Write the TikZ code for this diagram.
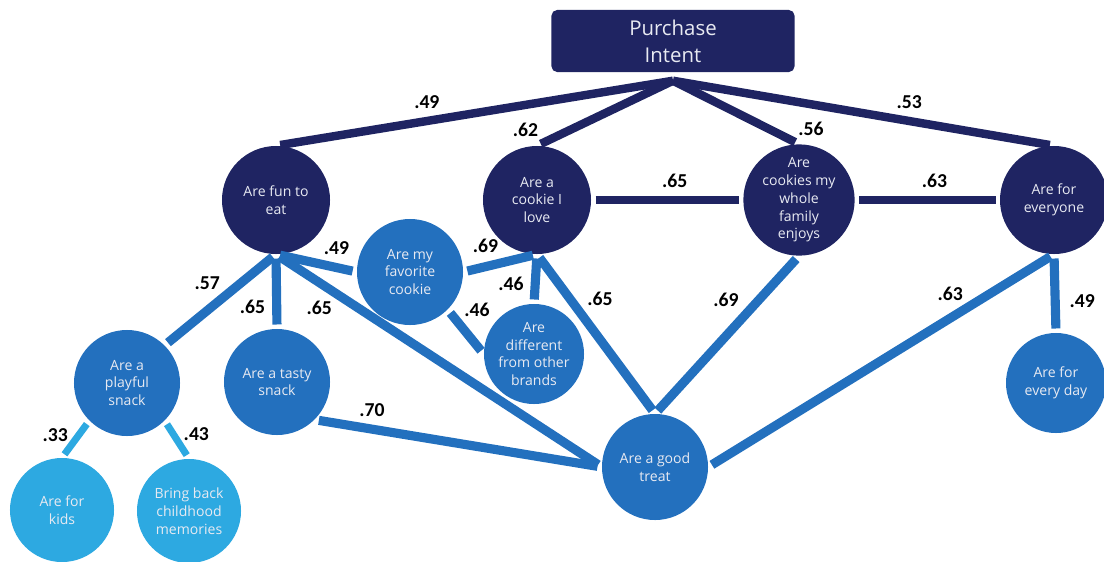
\documentclass[tikz,border=0pt]{standalone}
\usepackage{fontspec}
\setmainfont{Open Sans}
\newfontfamily\lblfont{Carlito}
\usetikzlibrary{positioning}
\definecolor{navy}{RGB}{31,36,98}
\definecolor{midblue}{RGB}{35,112,190}
\definecolor{lightblue}{RGB}{45,169,225}
\definecolor{nodetext}{RGB}{232,234,242}

\begin{document}
\begin{tikzpicture}
[
x=0.025cm, y=-0.025cm,
inner sep=0mm,
box1/.style={rectangle, rounded corners=4pt, fill=navy, text=nodetext, align=center, minimum width=6.075cm, minimum height=1.55cm, font=\fontsize{14.5}{19}\selectfont},
circ1/.style={circle, fill=navy, text=nodetext, align=center, minimum size=2.7cm, font=\fontsize{10}{12.6}\selectfont},
circ2/.style={circ1, fill=midblue, minimum size=2.65cm},
circ3/.style={circ1, fill=lightblue, minimum size=2.6cm},
lbl/.style={text=black, font=\lblfont\bfseries\fontsize{14}{14}\selectfont, inner sep=1pt},
line1/.style={navy, line width=6pt, shorten >=3pt},
line2/.style={midblue, line width=6.5pt, shorten <=3pt, shorten >=3pt},
line3/.style={lightblue, line width=5pt, shorten <=3pt, shorten >=3pt},
]
\useasboundingbox (0,0) rectangle (1104,561);

\node [box1] (intent) at (673,41) {Purchase\\Intent};

\node [circ1] (fun) at (276,200) {Are fun to\\eat};
\node [circ1] (love) at (537,200) {Are a\\cookie I\\love};
\node [circ1] (family) at (799,200) {Are\\cookies my\\whole\\family\\enjoys};
\node [circ1] (everyone) at (1054,200) {Are for\\everyone};

\node [circ2] (favorite) at (410,272) {Are my\\favorite\\cookie};
\node [circ2, minimum size=2.5cm] (different) at (534,354) {Are\\different\\from other\\brands};
\node [circ2] (playful) at (127,383) {Are a\\playful\\snack};
\node [circ2] (tasty) at (277,382) {Are a tasty\\snack};
\node [circ2] (treat) at (655,467) {Are a good\\treat};
\node [circ2, minimum size=2.5cm] (everyday) at (1056,383) {Are for\\every day};

\node [circ3] (kids) at (62,510) {Are for\\kids};
\node [circ3] (memories) at (189,511) {Bring back\\childhood\\memories};

% purchase intent
\draw [line1] ([yshift=-6pt]intent.south) -- node[lbl, pos=0.62, above=5pt]{.49} (fun.north);
\draw [line1] ([yshift=-6pt]intent.south) -- node[lbl, pos=0.95, above left]{.62} (love.north);
\draw [line1] ([yshift=-6pt]intent.south) -- node[lbl, pos=0.95, above right]{.56} (family.north);
\draw [line1] ([yshift=-6pt]intent.south) -- node[lbl, pos=0.62, above=5pt]{.53} (everyone.north);

\draw [line1, shorten <=3pt] (love) -- node[lbl, pos=0.55, above=5pt]{.65} (family);
\draw [line1, shorten <=3pt] (family) -- node[lbl, pos=0.55, above=5pt]{.63} (everyone);

% drivers
\draw [line2] (fun.south) -- node[lbl, pos=0.45, above left]{.57} (playful.north east);
\draw [line2] (fun.south) -- node[lbl, pos=0.7, left=4pt]{.65} (tasty.north);
\draw [line2] (fun.south) -- node[lbl, pos=0.75, above=5pt]{.49} (favorite.west);
\draw [line2] (fun.south) -- node[lbl, pos=0.19, below left]{.65} (treat.west);
\draw [line2] (favorite.east) -- node[lbl, pos=0.3, above=6pt]{.69} (love.south);
\draw [line2] (love.south) -- node[lbl, pos=0.6, left=4pt]{.46} (different.north);
\draw [line2] (favorite.south east) -- node[lbl, pos=0.3, above right]{.46} (different.west);
\draw [line2] (love.south) -- node[lbl, pos=0.28, right=8pt]{.65} (treat.north);
\draw [line2] (family.south) -- node[lbl, pos=0.28, left=10pt]{.69} (treat.north);
\draw [line2] (everyone.south) -- node[lbl, pos=0.3, above=8pt]{.63} (treat.east);
\draw [line2] (everyone.south) -- node[lbl, pos=0.6, right=6pt]{.49} (everyday.north);
\draw [line2] (tasty.south east) -- node[lbl, pos=0.2, above=5pt]{.70} (treat.west);

\draw [line3] (playful.south west) -- node[lbl, pos=0.4, left=4pt]{.33} (kids.north);
\draw [line3] (playful.south east) -- node[lbl, pos=0.35, right=4pt]{.43} (memories.north);
\end{tikzpicture}
\end{document}
